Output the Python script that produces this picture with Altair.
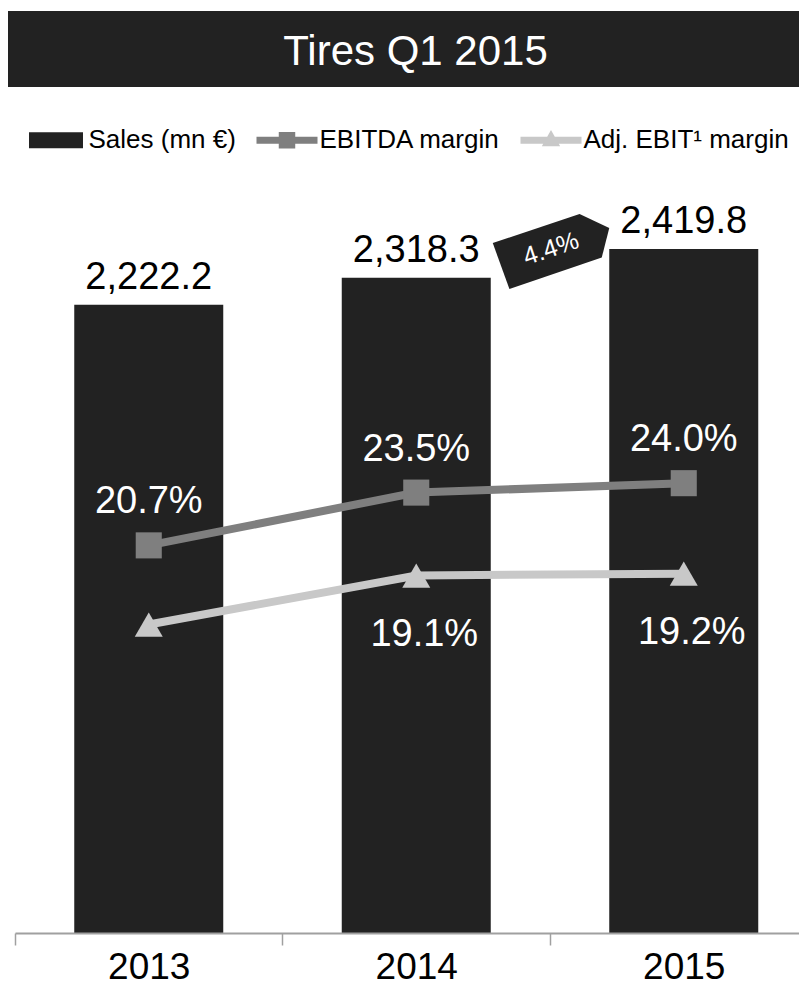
import altair as alt
import pandas as pd

# ---------------- data ----------------
years = [2013, 2014, 2015]
sales = [2222.2, 2318.3, 2419.8]
ebitda_margin = [20.7, 23.5, 24.0]
adj_ebit_margin = [16.5, 19.1, 19.2]
adj_ebit_label_shown = [False, True, True]
series_names = ["Sales (mn €)", "EBITDA margin", "Adj. EBIT¹ margin"]
series_colors = ["#222222", "#7f7f7f", "#c8c8c8"]
title_text = "Tires Q1 2015"

FONT = "Liberation Sans"

df = pd.DataFrame({
    "year": years,
    "sales": sales,
    "ebitda": ebitda_margin,
    "adj": adj_ebit_margin,
})
df["sales_label"] = [f"{v:,.1f}" for v in sales]
df["ebitda_label"] = [f"{v:.1f}%" for v in ebitda_margin]
df["adj_label"] = [f"{v:.1f}%" if s else "" for v, s in zip(adj_ebit_margin, adj_ebit_label_shown)]

growth = sales[-1] / sales[-2] - 1
callout_df = pd.DataFrame({
    "year": [(years[-1] + years[-2]) / 2],
    "sales": [sales[-1]],
    "label": [f"{growth*100:.1f}%"],
})
legend_df = pd.DataFrame({"series": series_names})
title_df = pd.DataFrame({"t": [title_text]})

W = 784
H = 848
STEP = 267.5  # pixels per year

# ---------------- scales ----------------
x_scale = alt.Scale(domain=[years[0] - 0.5, years[0] - 0.5 + W / STEP], nice=False, zero=False, padding=0)
sales_scale = alt.Scale(domain=[0, 3000], nice=False, zero=True)
margin_scale = alt.Scale(domain=[0.13, 45.13], nice=False, zero=False)

x_axis = alt.Axis(
    title=None, values=[y - 0.5 for y in years],
    labelExpr="'' + (datum.value + 0.5)", labelOffset=STEP / 2, labelFlush=False,
    labelOverlap=False, labelBound=False,
    domainColor="#a0a0a0", domainWidth=2,
    tickColor="#a0a0a0", tickWidth=1.5, tickSize=12, labelFontSize=37,
    labelFont=FONT, labelColor="black", labelPadding=41,
    labelBaseline="bottom", labelAngle=0, zindex=1, grid=False,
)
x_enc = alt.X("year:Q", scale=x_scale, axis=x_axis)
y_sales = alt.Y("sales:Q", scale=sales_scale, axis=None)

base = alt.Chart(df)

banner = alt.Chart(title_df).mark_rect(color="#222222").encode(
    x=alt.value(-7), x2=alt.value(W), y=alt.value(-74), y2=alt.value(2)
)
title = alt.Chart(title_df).mark_text(
    color="white", fontSize=42, font=FONT, baseline="alphabetic", align="center"
).encode(x=alt.value(400.5), y=alt.value(-20), text="t:N")

bars = base.mark_bar(size=149, color="#222222").encode(x=x_enc, y=y_sales)
sales_text = base.mark_text(
    fontSize=38, font=FONT, color="black", baseline="alphabetic", dy=-16
).encode(x=x_enc, y=y_sales, text="sales_label:N")

y_e = alt.Y("ebitda:Q", scale=margin_scale, axis=None)
y_a = alt.Y("adj:Q", scale=margin_scale, axis=None)

e_line = base.mark_line(color="#7f7f7f", strokeWidth=8).encode(x=x_enc, y=y_e)
a_line = base.mark_line(color="#c8c8c8", strokeWidth=8).encode(x=x_enc, y=y_a)
e_pts = base.mark_point(shape="square", filled=True, size=680, color="#7f7f7f", opacity=1).encode(x=x_enc, y=y_e)
a_pts = base.mark_point(shape="triangle-up", filled=True, size=784, color="#c8c8c8", opacity=1).encode(x=x_enc, y=y_a)
e_text = base.mark_text(
    fontSize=38, font=FONT, color="white", baseline="alphabetic", dy=-32
).encode(x=x_enc, y=y_e, text="ebitda_label:N")
a_text = base.mark_text(
    fontSize=38, font=FONT, color="white", baseline="alphabetic", dy=70, dx=8
).encode(x=x_enc, y=y_a, text="adj_label:N")

callout_shape = "M-0.89,-0.4L0.61,-0.4L1,-0.03L0.73,0.39L-0.87,0.4Z"
callout = alt.Chart(callout_df).mark_point(
    shape=callout_shape, size=14884, angle=341.5, filled=True, color="#222222",
    opacity=1, xOffset=2,
).encode(x=x_enc, y=y_sales)
callout_text = alt.Chart(callout_df).mark_text(
    angle=341.5, color="white", fontSize=25, font=FONT, baseline="middle",
    align="center", dx=1,
).encode(x=x_enc, y=y_sales, text="label:N")

legend_paths = [
    "M-0.885,-0.262H0.885V0.262H-0.885Z",
    "M-1,-0.115H-0.27V-0.27H0.27V-0.115H1V0.115H0.27V0.27H-0.27V0.115H-1Z",
    "M-1,-0.115H1V0.115H-1Z M0,-0.34L0.3,0.2H-0.3Z",
]
leg = alt.Legend(
    orient="none", legendX=10.5, legendY=24.5, direction="horizontal", title=None,
    labelFontSize=26, labelFont=FONT, labelColor="black", labelLimit=400,
    symbolSize=3721, symbolStrokeWidth=0, symbolOpacity=1, labelOffset=2,
    columnPadding=20, padding=0,
)
legend_layer = alt.Chart(legend_df).mark_point(filled=True, opacity=1, size=3721).encode(
    color=alt.Color("series:N", scale=alt.Scale(domain=series_names, range=series_colors), legend=leg),
    shape=alt.Shape("series:N", scale=alt.Scale(domain=series_names, range=legend_paths), legend=leg),
).transform_filter("false")

chart = alt.layer(
    banner, title, bars, sales_text, e_line, a_line, e_pts, a_pts, e_text, a_text,
    callout, callout_text, legend_layer,
).resolve_scale(y="independent").properties(
    width=W, height=H,
    padding={"left": 7, "top": 77, "right": 0, "bottom": 54},
    autosize=alt.AutoSizeParams(type="none"),
).configure_view(stroke=None)

chart.save("out.html", embed_options={"renderer": "svg", "actions": False})
